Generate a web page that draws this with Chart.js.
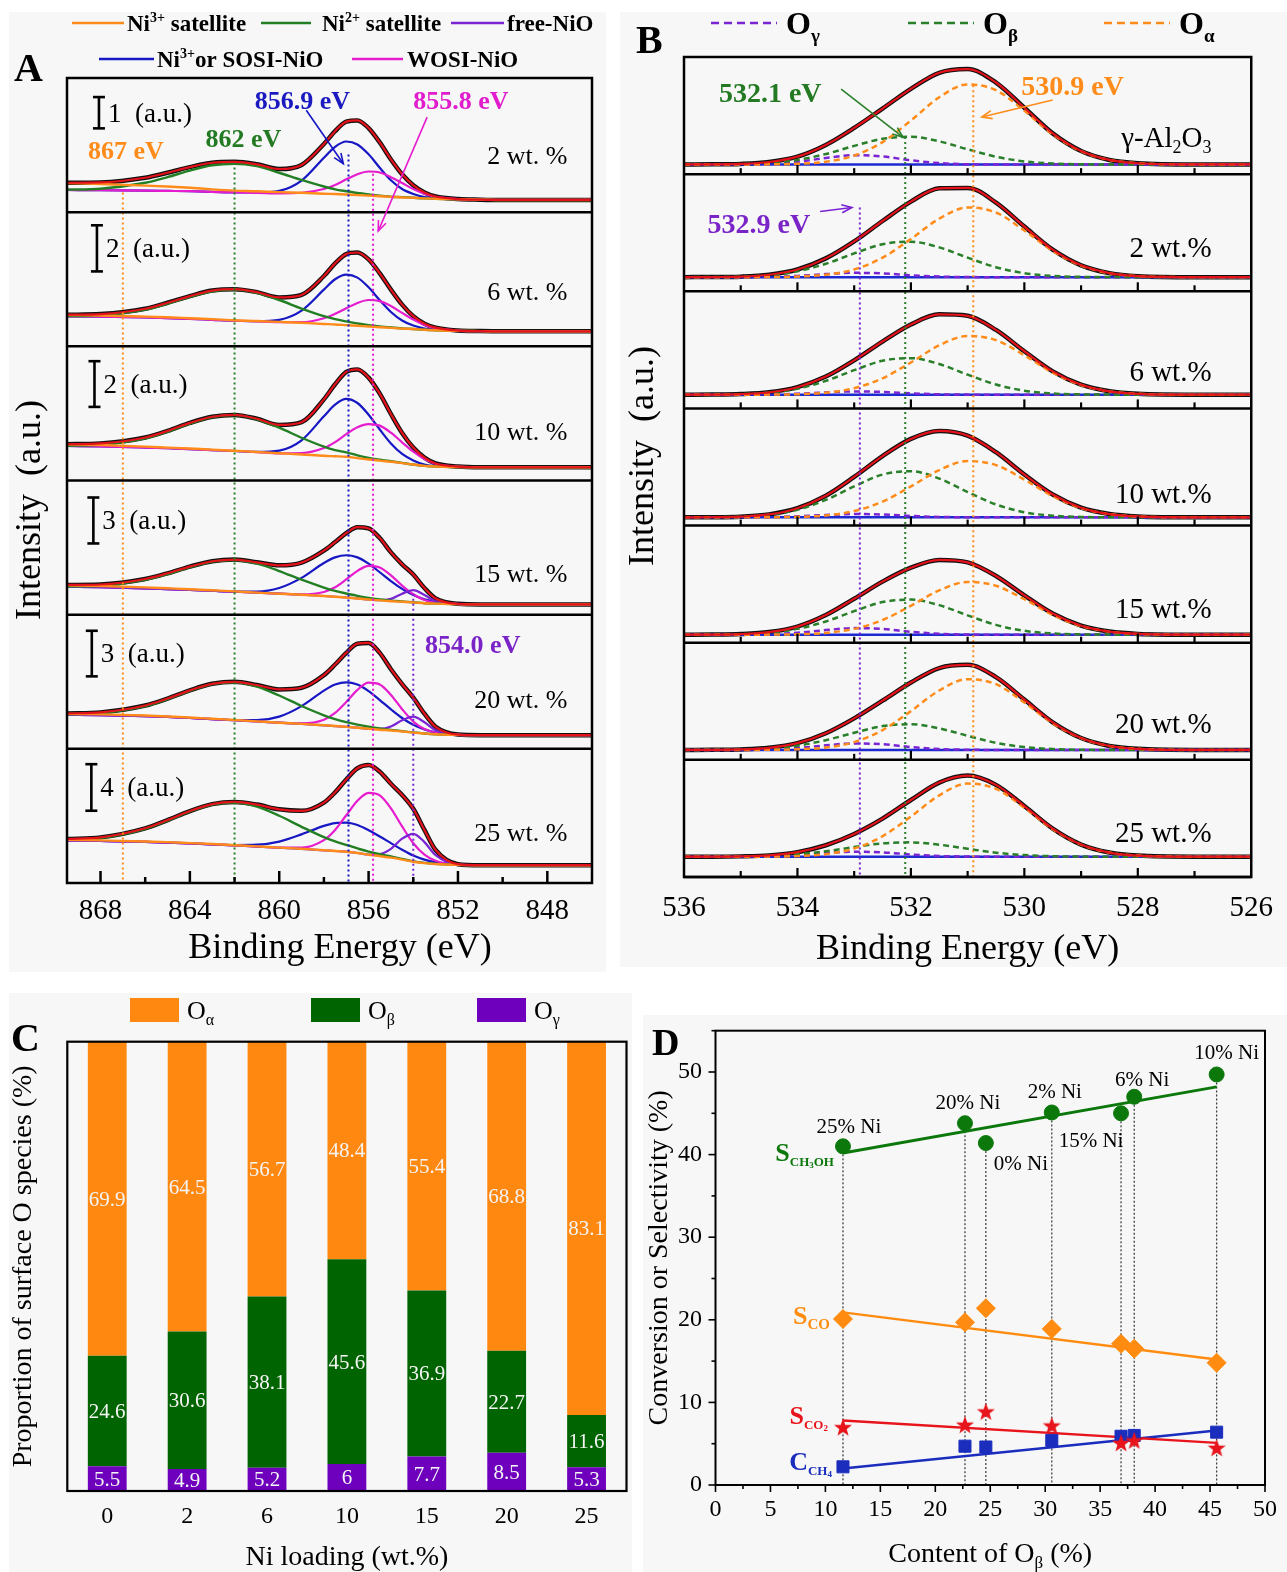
<!DOCTYPE html>
<html>
<head>
<meta charset="utf-8">
<title>Ni 2p / O 1s XPS and surface O species</title>
<script src="https://cdn.jsdelivr.net/npm/chart.js@4.4.1/dist/chart.umd.min.js"></script>
<style>
  html, body { margin: 0; padding: 0; background: #fff; }
  body { position: relative; width: 1287px; height: 1572px; overflow: hidden; }
  .panel { position: absolute; background: #f7f7f7; }
  canvas { position: absolute; }
</style>
</head>
<body>
<div class="panel" style="left:9px;top:12px;width:597px;height:960px"></div>
<div class="panel" style="left:620px;top:12px;width:667px;height:955px"></div>
<div class="panel" style="left:9px;top:993px;width:623px;height:579px"></div>
<div class="panel" style="left:643px;top:1015px;width:644px;height:557px"></div>
<canvas id="panelA" width="610" height="980" style="left:0;top:0;width:610px;height:980px"></canvas>
<canvas id="panelB" width="677" height="980" style="left:610px;top:0;width:677px;height:980px"></canvas>
<canvas id="panelC" width="640" height="592" style="left:0;top:980px;width:640px;height:592px"></canvas>
<canvas id="panelD" width="647" height="592" style="left:640px;top:980px;width:647px;height:592px"></canvas>
<script>
const SERIF = '"Liberation Serif", "Times New Roman", serif';
Chart.defaults.font.family = SERIF;
Chart.defaults.color = '#000';

// ---------- A: Ni 2p spectra (a.u., relative to right-hand baseline) ----------
const NI_EV = [869.5, 868, 866, 865, 864, 863, 862, 861, 860, 859, 858, 857.5, 857, 856.5, 856, 855.5, 855, 854.5, 854, 853.5, 853, 852, 851, 850, 848, 846];
const NI_LOADINGS = ['2 wt. %', '6 wt. %', '10 wt. %', '15 wt. %', '20 wt. %', '25 wt. %'];
const NI_TICKS = [868, 864, 860, 856, 852, 848];
const NI_MINOR = [866, 862, 858, 854, 850];
const NI_BG = [
  [0.32,0.31,0.30,0.29,0.28,0.26,0.24,0.23,0.21,0.20,0.18,0.17,0.16,0.145,0.13,0.11,0.09,0.08,0.07,0.05,0.04,0.02,0.01,0,0,0],
  [0.65,0.64,0.60,0.57,0.54,0.50,0.46,0.43,0.40,0.36,0.32,0.30,0.27,0.24,0.21,0.18,0.15,0.12,0.10,0.07,0.05,0.02,0.01,0,0,0],
  [0.93,0.91,0.86,0.83,0.79,0.75,0.71,0.66,0.61,0.56,0.50,0.48,0.46,0.40,0.34,0.29,0.24,0.18,0.12,0.06,0.03,0.01,0,0,0,0],
  [1.15,1.12,1.05,1.00,0.95,0.89,0.83,0.76,0.70,0.63,0.55,0.50,0.45,0.39,0.32,0.26,0.21,0.17,0.13,0.08,0.05,0.02,0,0,0,0],
  [1.35,1.32,1.25,1.20,1.13,1.06,0.98,0.90,0.82,0.74,0.65,0.60,0.55,0.49,0.42,0.36,0.31,0.24,0.17,0.11,0.06,0.02,0,0,0,0],
  [2.13,2.08,2.00,1.94,1.87,1.79,1.70,1.60,1.50,1.40,1.28,1.22,1.16,1.05,0.90,0.78,0.65,0.48,0.30,0.18,0.10,0.03,0,0,0,0]
];
const NI_SAT3 = [
  [0.22,0.20,0.16,0.14,0.11,0.08,0.06,0.05,0.04,0.03,0.02,0.02,0.015,0.01,0.01,0.01,0.01,0,0,0,0,0,0,0,0,0],
  [0.06,0.05,0.04,0.04,0.03,0.03,0.02,0.02,0.01,0.01,0,0,0,0,0,0,0,0,0,0,0,0,0,0,0,0],
  [0.07,0.06,0.04,0.03,0.03,0.02,0.01,0.01,0,0,0,0,0,0,0,0,0,0,0,0,0,0,0,0,0,0],
  [0.10,0.08,0.06,0.05,0.04,0.03,0.02,0.01,0,0,0,0,0,0,0,0,0,0,0,0,0,0,0,0,0,0],
  [0.05,0.05,0.04,0.03,0.03,0.02,0.02,0.01,0,0,0,0,0,0,0,0,0,0,0,0,0,0,0,0,0,0],
  [0.06,0.05,0.04,0.04,0.03,0.03,0.02,0.02,0.01,0.01,0,0,0,0,0,0,0,0,0,0,0,0,0,0,0,0]
];
const NI_SAT2 = [
  [0.01,0.05,0.25,0.44,0.66,0.85,0.92,0.85,0.66,0.44,0.25,0.17,0.12,0.08,0.05,0.03,0.015,0.01,0,0,0,0,0,0,0,0],
  [0.01,0.06,0.34,0.63,0.96,1.24,1.35,1.24,0.96,0.63,0.34,0.23,0.16,0.10,0.06,0.035,0.02,0.01,0,0,0,0,0,0,0,0],
  [0.01,0.07,0.40,0.73,1.12,1.44,1.57,1.44,1.12,0.73,0.40,0.27,0.19,0.12,0.07,0.04,0.02,0.01,0,0,0,0,0,0,0,0],
  [0.02,0.10,0.55,0.98,1.48,1.90,2.07,1.90,1.48,0.98,0.55,0.38,0.26,0.17,0.10,0.06,0.035,0.02,0.01,0,0,0,0,0,0,0],
  [0.025,0.13,0.66,1.18,1.79,2.30,2.50,2.30,1.79,1.18,0.66,0.46,0.31,0.20,0.13,0.075,0.04,0.025,0.01,0,0,0,0,0,0,0],
  [0.06,0.26,1.13,1.90,2.75,3.43,3.69,3.43,2.75,1.90,1.13,0.83,0.58,0.39,0.26,0.16,0.10,0.06,0.03,0.02,0.01,0,0,0,0,0]
];
const NI_SOSI = [
  [0,0,0,0,0,0,0,0.01,0.08,0.42,1.17,1.53,1.71,1.63,1.33,0.92,0.54,0.27,0.12,0.04,0.01,0,0,0,0,0],
  [0,0,0,0,0,0,0,0.01,0.10,0.54,1.49,1.96,2.19,2.09,1.70,1.17,0.69,0.35,0.15,0.055,0.02,0,0,0,0,0],
  [0,0,0,0,0,0,0,0.01,0.12,0.62,1.73,2.26,2.53,2.41,1.96,1.36,0.80,0.40,0.18,0.06,0.015,0,0,0,0,0],
  [0,0,0,0,0,0,0.01,0.08,0.37,1.10,2.15,2.57,2.76,2.68,2.34,1.84,1.31,0.84,0.48,0.25,0.12,0.02,0,0,0,0],
  [0,0,0,0,0,0,0.01,0.09,0.40,1.17,2.28,2.73,2.93,2.84,2.48,1.95,1.39,0.89,0.51,0.27,0.13,0.02,0,0,0,0],
  [0,0,0,0,0,0,0.03,0.16,0.53,1.25,2.10,2.40,2.50,2.40,2.10,1.69,1.25,0.85,0.53,0.30,0.16,0.03,0,0,0,0]
];
const NI_WOSI = [
  [0,0,0,0,0,0,0,0,0,0.03,0.17,0.31,0.50,0.68,0.78,0.77,0.64,0.46,0.28,0.15,0.06,0.01,0,0,0,0],
  [0,0,0,0,0,0,0,0,0,0.04,0.25,0.46,0.73,0.99,1.15,1.13,0.95,0.68,0.41,0.21,0.09,0.015,0,0,0,0],
  [0,0,0,0,0,0,0,0,0,0.06,0.34,0.62,0.99,1.35,1.55,1.53,1.27,0.91,0.56,0.30,0.12,0.02,0,0,0,0],
  [0,0,0,0,0,0,0,0,0,0.02,0.26,0.62,1.18,1.80,2.20,2.15,1.69,1.06,0.53,0.21,0.07,0,0,0,0,0],
  [0,0,0,0,0,0,0,0,0,0.03,0.36,0.86,1.63,2.49,3.04,2.98,2.34,1.47,0.73,0.29,0.10,0,0,0,0,0],
  [0,0,0,0,0,0,0,0,0.01,0.11,0.87,1.81,3.13,4.49,5.32,5.22,4.24,2.85,1.59,0.73,0.28,0.01,0,0,0,0]
];
const NI_FREE = [
  null, null, null,
  [0,0,0,0,0,0,0,0,0,0,0,0,0,0,0,0.02,0.15,0.53,0.80,0.53,0.15,0,0,0,0,0],
  [0,0,0,0,0,0,0,0,0,0,0,0,0,0,0,0.05,0.26,0.74,1.05,0.74,0.26,0,0,0,0,0],
  [0,0,0,0,0,0,0,0,0,0,0,0,0,0,0.02,0.18,0.76,1.80,2.40,1.80,0.76,0.02,0,0,0,0]
];

// ---------- B: O 1s spectra ----------
const O_EV = [536, 535.5, 535, 534.5, 534, 533.5, 533, 532.5, 532, 531.5, 531, 530.5, 530, 529.5, 529, 528.5, 528, 527, 526];
const O_SAMPLES = ['γ-Al2O3', '2 wt.%', '6 wt.%', '10 wt.%', '15 wt.%', '20 wt.%', '25 wt.%'];
const O_TICKS = [536, 534, 532, 530, 528, 526];
const O_MINOR = [535, 533, 531, 529, 527];
const O_ALPHA = [
  [0,0,0,0.1,0.6,2.7,8.8,22.3,43.8,67.1,79.9,74.1,53.6,30.1,13.2,4.5,1.2,0,0],
  [0,0,0,0.1,0.6,2.4,7.6,19.3,37.8,57.9,69.0,64.0,46.2,26.0,11.4,3.9,1.0,0,0],
  [0,0,0,0.1,0.5,2.0,6.5,16.4,32.2,49.3,58.7,54.5,39.4,22.1,9.7,3.3,0.9,0,0],
  [0,0,0,0.1,0.5,1.9,6.3,15.8,31.1,47.6,56.7,52.6,38.0,21.4,9.3,3.2,0.9,0,0],
  [0,0,0,0.1,0.4,1.8,5.8,14.7,28.9,44.3,52.7,48.9,35.4,19.9,8.7,3.0,0.8,0,0],
  [0,0,0,0.1,0.6,2.4,7.9,19.9,39.1,59.9,71.3,66.2,47.8,26.9,11.8,4.0,1.1,0,0],
  [0,0,0,0.1,0.6,2.5,8.1,20.4,40.1,61.3,73.0,67.7,49.0,27.5,12.0,4.1,1.1,0,0]
];
const O_BETA = [
  [0,0.1,0.4,1.6,4.5,10.4,18.5,25.6,27.6,23.1,15.1,7.7,3.0,0.9,0.2,0,0,0,0],
  [0,0.1,0.5,2.0,5.8,13.2,23.5,32.6,35.1,29.5,19.3,9.8,3.9,1.2,0.3,0.1,0,0,0],
  [0,0.1,0.6,2.1,6.0,13.8,24.5,33.9,36.5,30.6,20.0,10.2,4.0,1.2,0.3,0.1,0,0,0],
  [0,0.1,0.7,2.6,7.7,17.5,31.1,43.1,46.5,39.0,25.5,13.0,5.1,1.6,0.4,0.1,0,0,0],
  [0,0.1,0.5,2.0,5.8,13.2,23.5,32.6,35.1,29.5,19.3,9.8,3.9,1.2,0.3,0.1,0,0,0],
  [0,0.1,0.4,1.5,4.3,9.8,17.3,24.0,25.9,21.7,14.2,7.2,2.9,0.9,0.2,0,0,0,0],
  [0,0,0.2,0.8,2.4,5.4,9.6,13.3,14.3,12.0,7.9,4.0,1.6,0.5,0.1,0,0,0,0]
];
const O_GAMMA = [
  [0,0,0.1,0.7,2.7,6.4,9.2,7.9,4.1,1.3,0.2,0,0,0,0,0,0,0,0],
  [0,0,0,0.3,1.2,3.0,4.3,3.7,1.9,0.6,0.1,0,0,0,0,0,0,0,0],
  [0,0,0,0.2,1.0,2.3,3.3,2.8,1.4,0.4,0.1,0,0,0,0,0,0,0,0],
  [0,0,0,0.2,1.0,2.3,3.3,2.8,1.4,0.4,0.1,0,0,0,0,0,0,0,0],
  [0,0,0.1,0.5,1.9,4.6,6.6,5.7,2.9,0.9,0.2,0,0,0,0,0,0,0,0],
  [0,0,0.1,0.5,1.9,4.6,6.6,5.7,2.9,0.9,0.2,0,0,0,0,0,0,0,0],
  [0,0,0.1,0.4,1.5,3.5,5.0,4.3,2.2,0.7,0.1,0,0,0,0,0,0,0,0]
];
const O_BASE = [0,0,0,0,0,0,0,0,0,0,0,0,0,0,0,0,0,0,0];

// ---------- C: surface O species (%) ----------
const NI_LOADING = ['0', '2', '6', '10', '15', '20', '25'];
const OA_SHARE = [69.9, 64.5, 56.7, 48.4, 55.4, 68.8, 83.1];
const OB_SHARE = [24.6, 30.6, 38.1, 45.6, 36.9, 22.7, 11.6];
const OG_SHARE = [5.5, 4.9, 5.2, 6, 7.7, 8.5, 5.3];

// ---------- D: activity vs O-beta content ----------
const OB_CONTENT = [11.6, 22.7, 24.6, 30.6, 36.9, 38.1, 45.6];
const POINT_NAMES = ['25% Ni', '20% Ni', '0% Ni', '2% Ni', '15% Ni', '6% Ni', '10% Ni'];
const S_CH3OH = [41.0, 43.8, 41.4, 45.1, 45.0, 47.0, 49.7];
const S_CO = [20.1, 19.7, 21.4, 18.9, 17.1, 16.5, 14.8];
const S_CO2 = [7.0, 7.3, 8.9, 7.2, 5.1, 5.4, 4.5];
const C_CH4 = [2.2, 4.7, 4.6, 5.4, 5.9, 6.0, 6.4];
const FIT_X = [11.6, 45.6];
const FIT_CH3OH = [40.2, 48.2];
const FIT_CO = [20.9, 15.2];
const FIT_CO2 = [7.8, 5.1];
const FIT_CH4 = [2.0, 6.6];
const D_XTICKS = [0, 5, 10, 15, 20, 25, 30, 35, 40, 45, 50];
const D_YTICKS = [0, 10, 20, 30, 40, 50];

// colours
const ORANGE = '#ff8c1a', GREEN_A = '#237f23', BLUE_A = '#1717c4', MAGENTA = '#e61ccf',
      PURPLE = '#7a24d4', RED = '#e5121b', GREEN_B = '#2a7f2a', BLUE_B = '#1c2ad0';
const OA_COLOR = '#ff8811', OB_COLOR = '#006400', OG_COLOR = '#6e00bd';
const GREEN_D = '#0c780c', ORANGE_D = '#ff8c10', RED_D = '#e8141c', BLUE_D = '#1a2dbd';

// ---------- drawing helpers ----------
function font(size, bold) { return (bold ? 'bold ' : '') + size + 'px ' + SERIF; }

// parts: [text, size, bold, baselineShift]
function richText(ctx, x, cy, parts, align, color) {
  ctx.save();
  ctx.fillStyle = color || '#000';
  ctx.textAlign = 'left';
  ctx.textBaseline = 'alphabetic';
  let w = 0;
  parts.forEach(p => { ctx.font = font(p[1], p[2]); w += ctx.measureText(p[0]).width; });
  let x0 = align === 'right' ? x - w : align === 'center' ? x - w / 2 : x;
  const base = cy + parts[0][1] * 0.33;
  parts.forEach(p => {
    ctx.font = font(p[1], p[2]);
    ctx.fillText(p[0], x0, base + (p[3] || 0));
    x0 += ctx.measureText(p[0]).width;
  });
  ctx.restore();
}
function text(ctx, x, cy, str, size, bold, align, color) { richText(ctx, x, cy, [[str, size, bold]], align, color); }

function seg(ctx, x1, y1, x2, y2, color, width, dash) {
  ctx.save();
  ctx.strokeStyle = color; ctx.lineWidth = width; ctx.setLineDash(dash || []);
  ctx.beginPath(); ctx.moveTo(x1, y1); ctx.lineTo(x2, y2); ctx.stroke();
  ctx.restore();
}
function arrow(ctx, x1, y1, x2, y2, color) {
  const a = Math.atan2(y2 - y1, x2 - x1), h = 11;
  seg(ctx, x1, y1, x2, y2, color, 1.6);
  ctx.save();
  ctx.strokeStyle = color; ctx.lineWidth = 1.6;
  ctx.beginPath();
  ctx.moveTo(x2 - h * Math.cos(a - 0.38), y2 - h * Math.sin(a - 0.38));
  ctx.lineTo(x2, y2);
  ctx.lineTo(x2 - h * Math.cos(a + 0.38), y2 - h * Math.sin(a + 0.38));
  ctx.stroke();
  ctx.restore();
}
function vtitle(ctx, x, cy, str, size) {
  ctx.save(); ctx.translate(x, cy); ctx.rotate(-Math.PI / 2);
  text(ctx, 0, 0, str, size, false, 'center', '#000');
  ctx.restore();
}

function curve(xs, parts) { return xs.map((x, i) => ({ x, y: parts.reduce((s, a) => s + a[i], 0) })); }
function spec(data, axis, color, width, order, dash) {
  return { data, yAxisID: axis, borderColor: color, borderWidth: width, borderDash: dash || [],
           pointRadius: 0, fill: false, cubicInterpolationMode: 'monotone', order };
}
const baseOpts = { responsive: false, animation: false, events: [],
                   plugins: { legend: { display: false }, tooltip: { enabled: false } } };

// ================= Panel A =================
const NI_YMIN = [-0.39, -0.65, -0.58, -0.67, -0.9, -1.53];
const NI_YMAX = [3.9, 5.17, 5.29, 8.09, 7.93, 10.0];
const NI_BARS = [
  { ev: 868.07, from: 2.29, to: 3.29, n: '1' }, { ev: 868.16, from: 2.6, to: 4.6, n: '2' },
  { ev: 868.27, from: 2.64, to: 4.64, n: '2' }, { ev: 868.32, from: 3.98, to: 6.98, n: '3' },
  { ev: 868.39, from: 3.87, to: 6.87, n: '3' }, { ev: 868.41, from: 4.68, to: 8.68, n: '4' }
];
const NI_LABEL_DY = [77, 79, 85, 93, 85, 84];
const NI_GUIDES = [
  { ev: 867, row: 0, from: 0.24, color: ORANGE }, { ev: 862, row: 0, from: 1.04, color: GREEN_A },
  { ev: 856.9, row: 0, from: 1.45, color: BLUE_A }, { ev: 855.8, row: 0, from: 0.84, color: MAGENTA },
  { ev: 854.0, row: 3, from: 0.7, color: PURPLE }
];
const NI_NOTES = [
  { t: '867 eV', ev: 868.56, row: 0, v: 1.58, color: ORANGE },
  { t: '862 eV', ev: 863.3, row: 0, v: 1.97, color: '#237a23' },
  { t: '856.9 eV', ev: 861.1, row: 0, v: 3.19, color: '#1a1ac0' },
  { t: '855.8 eV', ev: 854.0, row: 0, v: 3.19, color: '#e01ccc' },
  { t: '854.0 eV', ev: 853.47, row: 4, v: 5.97, color: '#7a24c8' }
];
const NI_ARROWS = [
  { from: [858.79, 0, 2.87], to: [857.13, 0, 1.16], color: BLUE_A },
  { from: [853.38, 0, 2.65], to: [855.57, 1, 4.35], color: MAGENTA }
];

const dsA = [];
NI_LOADINGS.forEach((_, r) => {
  const ax = 'y' + r, bg = NI_BG[r];
  const peaks = [NI_SAT3[r], NI_SAT2[r], NI_SOSI[r], NI_WOSI[r]];
  if (NI_FREE[r]) peaks.push(NI_FREE[r]);
  const env = curve(NI_EV, [bg].concat(peaks));
  dsA.push(spec(env, ax, '#111', 4.5, 8));
  dsA.push(spec(curve(NI_EV, [bg, NI_SOSI[r]]), ax, BLUE_A, 2.2, 6));
  dsA.push(spec(curve(NI_EV, [bg, NI_WOSI[r]]), ax, MAGENTA, 2.2, 5));
  if (NI_FREE[r]) dsA.push(spec(curve(NI_EV, [bg, NI_FREE[r]]), ax, PURPLE, 2.2, 4));
  dsA.push(spec(curve(NI_EV, [bg, NI_SAT2[r]]), ax, GREEN_A, 2.4, 3));
  dsA.push(spec(curve(NI_EV, [bg, NI_SAT3[r]]), ax, ORANGE, 2.4, 2));
  dsA.push(spec(env, ax, RED, 2.2, 1));
});

const scalesA = {
  x: { type: 'linear', position: 'bottom', reverse: true, min: 846, max: 869.5,
       afterBuildTicks: s => { s.ticks = NI_TICKS.map(v => ({ value: v })); },
       afterFit: s => { s.height = 82; },
       grid: { display: false, drawTicks: false }, border: { display: false },
       ticks: { font: { size: 29 }, color: '#000', padding: 11, maxRotation: 0, autoSkip: false },
       title: { display: false } }
};
NI_LOADINGS.forEach((_, r) => {
  scalesA['y' + r] = { type: 'linear', position: 'left', stack: 'rows', stackWeight: 1, weight: 10 - r,
                       display: false, min: NI_YMIN[r], max: NI_YMAX[r] };
});

const decorA = {
  id: 'decorA',
  afterDraw(chart) {
    const ctx = chart.ctx, xs = chart.scales.x, a = chart.chartArea;
    const rows = NI_LOADINGS.map((_, r) => chart.scales['y' + r]);
    const P = (ev, r, v) => [xs.getPixelForValue(ev), rows[r].getPixelForValue(v)];
    NI_GUIDES.forEach(g => { const p = P(g.ev, g.row, g.from); seg(ctx, p[0], p[1], p[0], a.bottom, g.color, 2, [2, 3]); });
    ctx.save(); ctx.strokeStyle = '#000'; ctx.lineWidth = 2.5;
    ctx.strokeRect(a.left, a.top, a.right - a.left, a.bottom - a.top); ctx.restore();
    rows.slice(0, -1).forEach(s => seg(ctx, a.left, s.bottom, a.right, s.bottom, '#000', 2.5));
    NI_TICKS.forEach(v => { const x = xs.getPixelForValue(v); seg(ctx, x, a.bottom, x, a.bottom - 12, '#000', 2.5); });
    NI_MINOR.forEach(v => { const x = xs.getPixelForValue(v); seg(ctx, x, a.bottom, x, a.bottom - 6, '#000', 2.5); });
    NI_BARS.forEach((b, r) => {
      const p = P(b.ev, r, b.from), y2 = rows[r].getPixelForValue(b.to);
      seg(ctx, p[0], p[1], p[0], y2, '#000', 2.6);
      seg(ctx, p[0] - 6, p[1], p[0] + 6, p[1], '#000', 2.6);
      seg(ctx, p[0] - 6, y2, p[0] + 6, y2, '#000', 2.6);
      text(ctx, p[0] + 9, (p[1] + y2) / 2, b.n + '  (a.u.)', 27, false, 'left', '#000');
    });
    rows.forEach((s, r) => text(ctx, xs.getPixelForValue(847.1), s.top + NI_LABEL_DY[r], NI_LOADINGS[r], 26, false, 'right', '#000'));
    NI_NOTES.forEach(n => { const p = P(n.ev, n.row, n.v); text(ctx, p[0], p[1], n.t, 26, true, 'left', n.color); });
    NI_ARROWS.forEach(ar => {
      const p1 = P(ar.from[0], ar.from[1], ar.from[2]), p2 = P(ar.to[0], ar.to[1], ar.to[2]);
      arrow(ctx, p1[0], p1[1], p2[0], p2[1], ar.color);
    });
    // legend
    const LG = 23, SUP = [['3+', 14, true, -9], ['2+', 14, true, -9]];
    seg(ctx, 72, 23, 124, 23, ORANGE, 2.5);
    richText(ctx, 127, 23, [['Ni', LG, true], SUP[0], [' satellite', LG, true]], 'left', '#000');
    seg(ctx, 261, 23, 311, 23, GREEN_A, 2.5);
    richText(ctx, 322, 23, [['Ni', LG, true], SUP[1], [' satellite', LG, true]], 'left', '#000');
    seg(ctx, 451, 23, 504, 23, PURPLE, 2.5);
    text(ctx, 507, 23, 'free-NiO', LG, true, 'left', '#000');
    seg(ctx, 99, 59, 154, 59, BLUE_A, 2.5);
    richText(ctx, 157, 59, [['Ni', LG, true], SUP[0], ['or SOSI-NiO', LG, true]], 'left', '#000');
    seg(ctx, 352, 59, 403, 59, MAGENTA, 2.5);
    text(ctx, 407, 59, 'WOSI-NiO', LG, true, 'left', '#000');
    text(ctx, 14, 68, 'A', 40, true, 'left', '#000');
    text(ctx, 340, 946, 'Binding Energy (eV)', 36, false, 'center', '#000');
    vtitle(ctx, 28, 510, 'Intensity  (a.u.)', 36);
  }
};

new Chart(document.getElementById('panelA'), {
  type: 'line',
  data: { datasets: dsA },
  options: Object.assign({}, baseOpts, {
    layout: { padding: { left: 67, right: 18, top: 78, bottom: 15 } },
    scales: scalesA
  }),
  plugins: [decorA]
});

// ================= Panel B =================
const O_YMIN = [-9.7, -14, -13.7, -8.3, -8, -10, -20.3];
const O_YMAX = [107.3, 102, 103.3, 109.7, 109, 108, 96.7];
const O_LABEL_V = [27, 29, 23, 24, 26, 27, 24];
const O_GUIDES = [
  { ev: 532.9, row: 1, from: 69, color: PURPLE }, { ev: 532.1, row: 0, from: 27.3, color: GREEN_B },
  { ev: 530.9, row: 0, from: 79, color: ORANGE }
];
const O_NOTES = [
  { t: '532.1 eV', ev: 534.48, row: 0, v: 71.3, color: '#237a23' },
  { t: '530.9 eV', ev: 529.15, row: 0, v: 78.3, color: ORANGE },
  { t: '532.9 eV', ev: 534.68, row: 1, v: 53, color: '#7a24c8' }
];
const O_ARROWS = [
  { from: [533.23, 0, 75.3], to: [532.14, 0, 27.3], color: GREEN_B },
  { from: [529.5, 0, 64.3], to: [530.75, 0, 47.3], color: ORANGE },
  { from: [533.6, 1, 65], to: [533.04, 1, 69], color: PURPLE }
];

const dsB = [];
O_SAMPLES.forEach((_, r) => {
  const ax = 'y' + r;
  const env = curve(O_EV, [O_ALPHA[r], O_BETA[r], O_GAMMA[r]]);
  dsB.push(spec(env, ax, '#111', 4.5, 8));
  dsB.push(spec(curve(O_EV, [O_BASE]), ax, BLUE_B, 2.5, 6));
  dsB.push(spec(curve(O_EV, [O_GAMMA[r]]), ax, PURPLE, 2.5, 4, [6, 4]));
  dsB.push(spec(curve(O_EV, [O_BETA[r]]), ax, GREEN_B, 2.5, 3, [6, 4]));
  dsB.push(spec(curve(O_EV, [O_ALPHA[r]]), ax, ORANGE, 2.5, 2, [6, 4]));
  dsB.push(spec(env, ax, RED, 2.2, 1));
});

const scalesB = {
  x: { type: 'linear', position: 'bottom', reverse: true, min: 526, max: 536,
       afterBuildTicks: s => { s.ticks = O_TICKS.map(v => ({ value: v })); },
       afterFit: s => { s.height = 91; },
       grid: { display: false, drawTicks: false }, border: { display: false },
       ticks: { font: { size: 29 }, color: '#000', padding: 14, maxRotation: 0, autoSkip: false },
       title: { display: true, text: 'Binding Energy (eV)', font: { size: 36, lineHeight: 1 }, color: '#000', padding: 0 } }
};
O_SAMPLES.forEach((_, r) => {
  scalesB['y' + r] = { type: 'linear', position: 'left', stack: 'rows', stackWeight: 1, weight: 10 - r,
                       display: false, min: O_YMIN[r], max: O_YMAX[r] };
});

const decorB = {
  id: 'decorB',
  afterDraw(chart) {
    const ctx = chart.ctx, xs = chart.scales.x, a = chart.chartArea;
    const rows = O_SAMPLES.map((_, r) => chart.scales['y' + r]);
    const P = (ev, r, v) => [xs.getPixelForValue(ev), rows[r].getPixelForValue(v)];
    O_GUIDES.forEach(g => { const p = P(g.ev, g.row, g.from); seg(ctx, p[0], p[1], p[0], a.bottom, g.color, 2, [2, 3]); });
    ctx.save(); ctx.strokeStyle = '#000'; ctx.lineWidth = 2.5;
    ctx.strokeRect(a.left, a.top, a.right - a.left, a.bottom - a.top); ctx.restore();
    rows.forEach(s => {
      seg(ctx, a.left, s.bottom, a.right, s.bottom, '#000', 2.5);
      O_TICKS.slice(1, -1).forEach(v => { const x = xs.getPixelForValue(v); seg(ctx, x, s.bottom, x, s.bottom - 9, '#000', 2.2); });
      O_MINOR.forEach(v => { const x = xs.getPixelForValue(v); seg(ctx, x, s.bottom, x, s.bottom - 6, '#000', 2.2); });
    });
    rows.forEach((s, r) => {
      const x = xs.getPixelForValue(526.7), y = s.getPixelForValue(O_LABEL_V[r]);
      if (r === 0) {
        richText(ctx, x, y, [['γ-Al', 29], ['2', 18, false, 6], ['O', 29], ['3', 18, false, 6]], 'right', '#000');
      } else {
        text(ctx, x, y, O_SAMPLES[r], 29, false, 'right', '#000');
      }
    });
    O_NOTES.forEach(n => { const p = P(n.ev, n.row, n.v); text(ctx, p[0], p[1], n.t, 28, true, 'center', n.color); });
    O_ARROWS.forEach(ar => {
      const p1 = P(ar.from[0], ar.from[1], ar.from[2]), p2 = P(ar.to[0], ar.to[1], ar.to[2]);
      arrow(ctx, p1[0], p1[1], p2[0], p2[1], ar.color);
    });
    // legend
    [[101, PURPLE, 'γ'], [298, GREEN_B, 'β'], [494, ORANGE, 'α']].forEach(l => {
      seg(ctx, l[0], 23, l[0] + 66, 23, l[1], 2.6, [8, 5]);
      richText(ctx, l[0] + 75, 23, [['O', 32, true], [l[2], 19, true, 8]], 'left', '#000');
    });
    text(ctx, 26, 40, 'B', 40, true, 'left', '#000');
    vtitle(ctx, 31, 456, 'Intensity  (a.u.)', 36);
  }
};

new Chart(document.getElementById('panelB'), {
  type: 'line',
  data: { datasets: dsB },
  options: Object.assign({}, baseOpts, {
    layout: { padding: { left: 74, right: 29, top: 57, bottom: 12 } },
    scales: scalesB
  }),
  plugins: [decorB]
});

// ================= Panel C =================
const decorC = {
  id: 'decorC',
  afterDatasetsDraw(chart) {
    const ctx = chart.ctx, a = chart.chartArea;
    chart.data.datasets.forEach((ds, i) => {
      chart.getDatasetMeta(i).data.forEach((bar, j) => {
        text(ctx, bar.x, (bar.y + bar.base) / 2, String(ds.data[j]), 21, false, 'center', '#f4f4f4');
      });
    });
    ctx.save(); ctx.strokeStyle = '#000'; ctx.lineWidth = 2.2;
    ctx.strokeRect(a.left, a.top, a.right - a.left, a.bottom - a.top); ctx.restore();
    [[130, OA_COLOR, 'α'], [311, OB_COLOR, 'β'], [477, OG_COLOR, 'γ']].forEach(l => {
      ctx.save(); ctx.fillStyle = l[1]; ctx.fillRect(l[0], 18, 49, 24); ctx.restore();
      richText(ctx, l[0] + 57, 30, [['O', 26], [l[2], 16, false, 6]], 'left', '#000');
    });
    text(ctx, 11, 58, 'C', 40, true, 'left', '#000');
  }
};

new Chart(document.getElementById('panelC'), {
  type: 'bar',
  data: {
    labels: NI_LOADING,
    datasets: [
      { label: 'Oγ', data: OG_SHARE, backgroundColor: OG_COLOR },
      { label: 'Oβ', data: OB_SHARE, backgroundColor: OB_COLOR },
      { label: 'Oα', data: OA_SHARE, backgroundColor: OA_COLOR }
    ]
  },
  options: Object.assign({}, baseOpts, {
    layout: { padding: { left: 10, right: 13.5, top: 61.7, bottom: 0 } },
    datasets: { bar: { barPercentage: 0.486, categoryPercentage: 1, borderWidth: 0 } },
    scales: {
      x: { stacked: true, afterFit: s => { s.height = 81; },
           grid: { display: false, drawTicks: false }, border: { display: false },
           ticks: { font: { size: 24 }, color: '#000', padding: 11 },
           title: { display: true, text: 'Ni loading (wt.%)', font: { size: 28, lineHeight: 1 }, color: '#000', padding: 0 } },
      y: { stacked: true, min: 0, max: 100, afterFit: s => { s.width = 57.3; },
           grid: { display: false, drawTicks: false }, border: { display: false },
           ticks: { display: false },
           title: { display: true, text: 'Proportion of surface O species (%)', font: { size: 28, lineHeight: 1 }, color: '#000', padding: 0 } }
    }
  }),
  plugins: [decorC]
});

// ================= Panel D =================
const LABEL_OFFSETS = [[6, -20], [3, -21], [35, 20], [3, -21], [-30, 27], [8, -18], [10, -22]];
const SERIES_TAGS = [
  { ys: S_CH3OH, color: GREEN_D, dx: -9, dy: 6, parts: [['S', 26, true], ['CH', 13, true, 5], ['3', 9, true, 7], ['OH', 13, true, 5]] },
  { ys: S_CO, color: ORANGE_D, dx: -13, dy: -4, parts: [['S', 26, true], ['CO', 15, true, 5]] },
  { ys: S_CO2, color: RED_D, dx: -15, dy: -12, parts: [['S', 26, true], ['CO', 13, true, 5], ['2', 9, true, 7]] },
  { ys: C_CH4, color: BLUE_D, dx: -11, dy: -5, parts: [['C', 26, true], ['CH', 13, true, 5], ['4', 9, true, 7]] }
];

const starImg = document.createElement('canvas');
starImg.width = 20; starImg.height = 20;
(function () {
  const c = starImg.getContext('2d');
  c.fillStyle = RED_D; c.beginPath();
  for (let k = 0; k < 10; k++) {
    const r = k % 2 ? 3.9 : 9.5, ang = -Math.PI / 2 + k * Math.PI / 5;
    c.lineTo(10 + r * Math.cos(ang), 10.8 + r * Math.sin(ang));
  }
  c.closePath(); c.fill();
})();

const pairs = (xs, ys) => xs.map((x, i) => ({ x, y: ys[i] }));
const fitDs = (ys, color, w) => ({ data: pairs(FIT_X, ys), showLine: true, borderColor: color, borderWidth: w, pointRadius: 0, order: 5 });
const markDs = (ys, color, style, r) => ({ data: pairs(OB_CONTENT, ys), showLine: false, pointStyle: style, pointRadius: r,
                                           backgroundColor: color, borderColor: color, borderWidth: 1, order: 1 });

const decorD = {
  id: 'decorD',
  beforeDatasetsDraw(chart) {
    const ctx = chart.ctx, xs = chart.scales.x, ys = chart.scales.y, a = chart.chartArea;
    OB_CONTENT.forEach((v, i) => {
      const x = xs.getPixelForValue(v);
      seg(ctx, x, ys.getPixelForValue(S_CH3OH[i]), x, a.bottom, '#333', 1.2, [2, 2]);
    });
  },
  afterDraw(chart) {
    const ctx = chart.ctx, xs = chart.scales.x, ys = chart.scales.y, a = chart.chartArea;
    ctx.save(); ctx.strokeStyle = '#000'; ctx.lineWidth = 2;
    ctx.strokeRect(a.left, a.top, a.right - a.left, a.bottom - a.top); ctx.restore();
    D_XTICKS.forEach(v => {
      const x = xs.getPixelForValue(v), xm = xs.getPixelForValue(v + 2.5);
      seg(ctx, x, a.bottom, x, a.bottom + 7, '#000', 1.6);
      if (v < 50) seg(ctx, xm, a.bottom, xm, a.bottom + 4, '#000', 1.6);
    });
    D_YTICKS.forEach(v => {
      const y = ys.getPixelForValue(v), ym = ys.getPixelForValue(v + 5);
      seg(ctx, a.left, y, a.left - 7, y, '#000', 1.6);
      seg(ctx, a.left, ym, a.left - 4, ym, '#000', 1.6);
    });
    OB_CONTENT.forEach((v, i) => {
      const x = xs.getPixelForValue(v) + LABEL_OFFSETS[i][0], y = ys.getPixelForValue(S_CH3OH[i]) + LABEL_OFFSETS[i][1];
      text(ctx, x, y, POINT_NAMES[i], 21, false, 'center', '#000');
    });
    SERIES_TAGS.forEach(t => {
      const x = xs.getPixelForValue(OB_CONTENT[0]) + t.dx, y = ys.getPixelForValue(t.ys[0]) + t.dy;
      richText(ctx, x, y, t.parts, 'right', t.color);
    });
    richText(ctx, (a.left + a.right) / 2, 573, [['Content of O', 28], ['β', 17, false, 6], [' (%)', 28]], 'center', '#000');
    text(ctx, 12, 62, 'D', 38, true, 'left', '#000');
  }
};

new Chart(document.getElementById('panelD'), {
  type: 'scatter',
  data: { datasets: [
    fitDs(FIT_CH3OH, GREEN_D, 3), fitDs(FIT_CO, ORANGE_D, 2.5), fitDs(FIT_CO2, RED_D, 2.5), fitDs(FIT_CH4, BLUE_D, 2.5),
    markDs(S_CH3OH, GREEN_D, 'circle', 7.5), markDs(S_CO, ORANGE_D, 'rectRot', 9.5),
    markDs(S_CO2, RED_D, starImg, 9), markDs(C_CH4, BLUE_D, 'rect', 8.5)
  ] },
  options: Object.assign({}, baseOpts, {
    layout: { padding: { left: 6, right: 12, top: 50.7, bottom: 5 } },
    scales: {
      x: { type: 'linear', min: 0, max: 50,
           afterBuildTicks: s => { s.ticks = D_XTICKS.map(v => ({ value: v })); },
           afterFit: s => { s.height = 82; },
           grid: { display: false, drawTicks: false }, border: { display: false },
           ticks: { font: { size: 24 }, color: '#000', padding: 10, maxRotation: 0, autoSkip: false } },
      y: { type: 'linear', min: 0, max: 55,
           afterBuildTicks: s => { s.ticks = D_YTICKS.map(v => ({ value: v })); },
           afterFit: s => { s.width = 69.5; },
           grid: { display: false, drawTicks: false }, border: { display: false },
           ticks: { font: { size: 24 }, color: '#000', padding: 13.5, autoSkip: false },
           title: { display: true, text: 'Conversion or Selectivity (%)', font: { size: 28, lineHeight: 1 }, color: '#000', padding: 0 } }
    }
  }),
  plugins: [decorD]
});
</script>
</body>
</html>
